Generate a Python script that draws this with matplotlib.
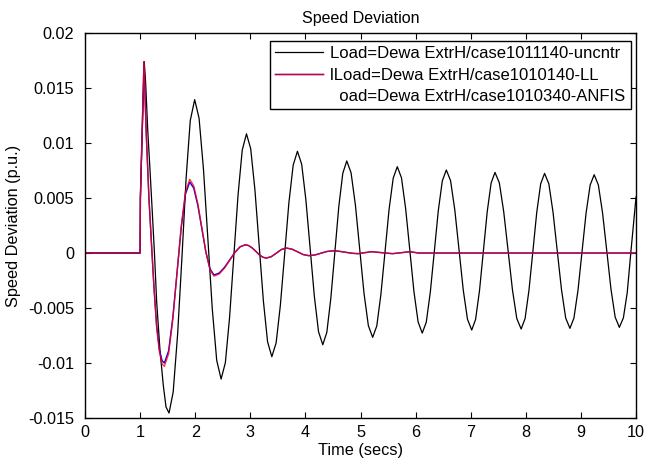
# Speed deviation after a disturbance: uncontrolled vs LL vs ANFIS controller
import matplotlib
matplotlib.use('Agg')
import matplotlib.pyplot as plt
from matplotlib.legend_handler import HandlerTuple
from matplotlib.lines import Line2D

plt.rcParams['font.family'] = ['Liberation Sans', 'DejaVu Sans']
plt.rcParams['axes.unicode_minus'] = False

# uncontrolled case (black)
t_uncntr = [0, 1.0, 1.005, 1.075, 1.10, 1.14, 1.18, 1.22, 1.26, 1.30, 1.36, 1.42, 1.47, 1.525,
            1.60, 1.68, 1.76, 1.835, 1.91, 1.99,
            2.07, 2.15, 2.23, 2.31, 2.39, 2.47,
            2.547, 2.623, 2.70, 2.777, 2.853, 2.93,
            3.007, 3.083, 3.16, 3.237, 3.313, 3.39,
            3.468, 3.545, 3.623, 3.70, 3.778, 3.855,
            3.932, 4.008, 4.085, 4.162, 4.238, 4.315,
            4.388, 4.46, 4.533, 4.605, 4.678, 4.75,
            4.828, 4.907, 4.985, 5.063, 5.142, 5.22,
            5.295, 5.369, 5.444, 5.518, 5.593, 5.667,
            5.743, 5.818, 5.894, 5.969, 6.045, 6.12,
            6.193, 6.266, 6.339, 6.411, 6.484, 6.557,
            6.634, 6.711, 6.788, 6.864, 6.941, 7.018,
            7.088, 7.159, 7.229, 7.299, 7.37, 7.44,
            7.519, 7.598, 7.678, 7.757, 7.836, 7.915,
            7.986, 8.057, 8.128, 8.198, 8.269, 8.34,
            8.417, 8.493, 8.57, 8.647, 8.723, 8.80,
            8.873, 8.947, 9.02, 9.093, 9.167, 9.24,
            9.316, 9.392, 9.469, 9.545, 9.621, 9.697,
            9.77, 9.84, 9.91, 10.0]
w_uncntr = [0, 0, 0.005, 0.0174, 0.0155, 0.011, 0.0075, 0.0038, 0.0, -0.0044, -0.0088, -0.0120, -0.0140, -0.01455,
            -0.01264, -0.00743, -0.0003, 0.00683, 0.01204, 0.01395,
            0.01225, 0.0076, 0.00125, -0.00511, -0.00976, -0.01146,
            -0.00997, -0.00588, -0.00031, 0.00527, 0.00935, 0.01084,
            0.00948, 0.00577, 0.0007, -0.00436, -0.00807, -0.00943,
            -0.00818, -0.00476, -0.00009, 0.00458, 0.008, 0.00925,
            0.00807, 0.00485, 0.00045, -0.00394, -0.00716, -0.00834,
            -0.00722, -0.00416, 0.00002, 0.00419, 0.00725, 0.00837,
            0.0073, 0.00436, 0.00035, -0.00366, -0.0066, -0.00767,
            -0.00663, -0.00379, 0.00009, 0.00397, 0.00681, 0.00785,
            0.00684, 0.00407, 0.00028, -0.0035, -0.00627, -0.00728,
            -0.00629, -0.00357, 0.00014, 0.00384, 0.00656, 0.00755,
            0.00658, 0.00391, 0.00027, -0.00336, -0.00603, -0.0070,
            -0.00604, -0.00342, 0.00017, 0.00375, 0.00637, 0.00733,
            0.00638, 0.00377, 0.00021, -0.00335, -0.00596, -0.00691,
            -0.00596, -0.00337, 0.00017, 0.0037, 0.00629, 0.00724,
            0.0063, 0.00372, 0.00019, -0.00333, -0.00591, -0.00685,
            -0.00591, -0.00336, 0.00014, 0.00363, 0.00618, 0.00712,
            0.00619, 0.00365, 0.00018, -0.00329, -0.00583, -0.00676,
            -0.0059, -0.0036, 0.0003, 0.0051]

# controlled cases share the same time samples
t_ctrl = [0, 1.0, 1.005, 1.07, 1.11, 1.16, 1.21, 1.25, 1.30, 1.35, 1.40, 1.44,
          1.517, 1.593, 1.67, 1.747, 1.823, 1.90,
          1.973, 2.047, 2.12, 2.193, 2.267, 2.34,
          2.435, 2.53, 2.625, 2.72, 2.815, 2.91,
          2.973, 3.037, 3.10, 3.163, 3.227, 3.29,
          3.381, 3.473, 3.564, 3.655,
          3.756, 3.858, 3.959, 4.06,
          4.17, 4.28, 4.39, 4.50,
          4.61, 4.725, 4.84, 4.95,
          5.075, 5.20, 5.39, 5.58, 5.74, 5.90, 6.05, 10.0]
w_ll = [0, 0, 0.005, 0.0174, 0.0110, 0.0050, 0.0005, -0.0030, -0.0068, -0.0090, -0.0101, -0.0103,
        -0.00916, -0.00605, -0.0018, 0.00245, 0.00556, 0.0067,
        0.00611, 0.0045, 0.0023, 0.0001, -0.00151, -0.0021,
        -0.00191, -0.00139, -0.00068, 0.00004, 0.00056, 0.00075,
        0.00067, 0.00045, 0.00015, -0.00016, -0.00038, -0.00046,
        -0.00033, -0.00001, 0.00032, 0.00045,
        0.00035, 0.00011, -0.00014, -0.00024,
        -0.00018, -0.00002, 0.00014, 0.0002,
        0.00016, 0.00007, -0.00002, -0.00006,
        0.00003, 0.00012, 0.00003, -0.00006, 0.00003, 0.00012, 0, 0]
w_anfis = [0, 0, 0.005, 0.0174, 0.0110, 0.0050, 0.0005, -0.0030, -0.0066, -0.0088, -0.0098, -0.0100,
           -0.0089, -0.00589, -0.00178, 0.00234, 0.00535, 0.00645,
           0.0059, 0.00434, 0.00223, 0.00011, -0.00143, -0.0020,
           -0.00182, -0.00131, -0.00063, 0.00006, 0.00057, 0.00075,
           0.00067, 0.00045, 0.00015, -0.00016, -0.00038, -0.00046,
           -0.00033, -0.00001, 0.00032, 0.00045,
           0.00035, 0.00011, -0.00014, -0.00024,
           -0.00018, -0.00002, 0.00014, 0.0002,
           0.00016, 0.00007, -0.00002, -0.00006,
           0.00003, 0.00012, 0.00003, -0.00006, 0.00003, 0.00012, 0, 0]

x_ticks = list(range(0, 11))
y_ticks = [-0.015, -0.01, -0.005, 0, 0.005, 0.01, 0.015, 0.02]
y_tick_labels = ['-0.015', '-0.01', '-0.005', '0', '0.005', '0.01', '0.015', '0.02']

labels = ['Load=Dewa ExtrH/case1011140-uncntr',
          'lLoad=Dewa ExtrH/case1010140-LL',
          '  oad=Dewa ExtrH/case1010340-ANFIS']


def main():
    fig = plt.figure(figsize=(6.46, 4.61), dpi=100)
    ax = fig.add_axes([0.1316, 0.0933, 0.853, 0.835])

    l1, = ax.plot(t_uncntr, w_uncntr, color='black', lw=0.9)
    l3, = ax.plot(t_ctrl, w_anfis, color='blue', lw=1.0)
    l2, = ax.plot(t_ctrl, w_ll, color='red', lw=1.0, alpha=0.8)

    ax.set_xlim(0, 10)
    ax.set_ylim(-0.015, 0.02)
    ax.set_xticks(x_ticks)
    ax.set_yticks(y_ticks)
    ax.set_yticklabels(y_tick_labels)
    ax.tick_params(direction='in', top=True, right=True, length=4, labelsize=11.7)
    ax.tick_params(axis='x', pad=5)
    ax.tick_params(axis='y', pad=8)
    for s in ax.spines.values():
        s.set_linewidth(1.0)

    ax.set_title('Speed Deviation', fontsize=11.5, pad=7)
    ax.set_xlabel('Time (secs)', fontsize=11.7, labelpad=2)
    ax.set_ylabel('Speed Deviation (p.u.)', fontsize=11.7, labelpad=5)

    blank = Line2D([], [], color='none')
    leg = ax.legend([l1, (l3, l2), blank], labels, loc='upper right',
                    bbox_to_anchor=(0.996, 0.988), fontsize=12.0,
                    handler_map={tuple: HandlerTuple(ndivide=1)},
                    frameon=True, fancybox=False, edgecolor='black', framealpha=1,
                    handlelength=2.9, handletextpad=0.45, labelspacing=0.4,
                    borderpad=0.3, borderaxespad=0.2)
    leg.get_frame().set_linewidth(1.0)

    fig.savefig('out.png', dpi=100, facecolor='white')


if __name__ == '__main__':
    main()
